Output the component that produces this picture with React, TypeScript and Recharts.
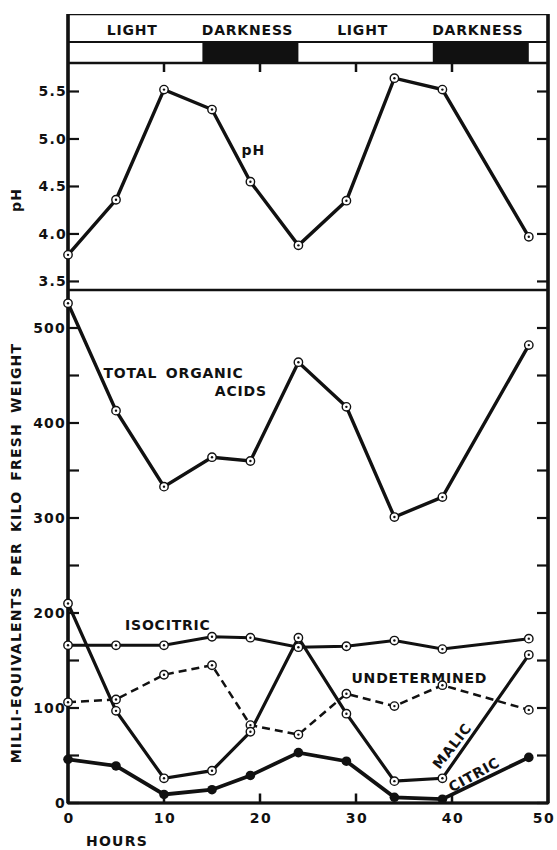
import {
  LineChart,
  Line,
  XAxis,
  YAxis,
  ReferenceArea,
  ReferenceLine,
  ReferenceDot,
} from 'recharts';

// hours of sampling
const hours = [0, 5, 10, 15, 19, 24, 29, 34, 39, 48];

// pH of the tissue
const phValues = [3.78, 4.36, 5.52, 5.31, 4.55, 3.88, 4.35, 5.64, 5.52, 3.97];

// milli-equivalents per kilo fresh weight
const totalAcids = [526, 413, 333, 364, 360, 464, 417, 301, 322, 482];
const isocitric = [166, 166, 166, 175, 174, 164, 165, 171, 162, 173];
const malic = [210, 97, 26, 34, 75, 174, 94, 23, 26, 156];
const undetermined = [106, 109, 135, 145, 82, 72, 115, 102, 124, 98];
const citric = [46, 39, 9, 14, 29, 53, 44, 6, 4, 48];

// light / dark schedule
const periodLabels = ['LIGHT', 'DARKNESS', 'LIGHT', 'DARKNESS', ''];
const periodStarts = [0, 14, 24, 38, 48];
const periodEnds = [14, 24, 38, 48, 50];

const phTicks = [3.5, 4.0, 4.5, 5.0, 5.5];
const acidTicks = [0, 50, 100, 150, 200, 250, 300, 350, 400, 450, 500];
const hourTicks = [0, 10, 20, 30, 40, 50];
const innerHourTicks = [10, 20, 30, 40];

const LEFT = 68;
const RIGHT = 548;
const INK = '#111';
const FONT = '"DejaVu Sans", sans-serif';

const phData = hours.map((h, i) => ({ h, ph: phValues[i] }));
const acidData = hours.map((h, i) => ({
  h,
  total: totalAcids[i],
  isocitric: isocitric[i],
  malic: malic[i],
  undetermined: undetermined[i],
  citric: citric[i],
}));
const periods = periodLabels.map((label, i) => ({
  label,
  start: periodStarts[i],
  end: periodEnds[i],
}));

const textStyle = { fontFamily: FONT, fontWeight: 700, fill: INK } as const;

function openDot(props: any) {
  const { cx, cy, index } = props;
  if (cx == null || cy == null) return <g key={index} />;
  return (
    <g key={index}>
      <circle cx={cx} cy={cy} r={4.2} fill="#fff" stroke={INK} strokeWidth={1.4} />
      <circle cx={cx} cy={cy} r={1.2} fill={INK} />
    </g>
  );
}

function filledDot(props: any) {
  const { cx, cy, index } = props;
  if (cx == null || cy == null) return <g key={index} />;
  return <circle key={index} cx={cx} cy={cy} r={4.8} fill={INK} />;
}

function yTick(labelled: (v: number) => boolean, fmt: (v: number) => string) {
  return (props: any) => {
    const { x, y, payload } = props;
    const v = payload.value;
    return (
      <g>
        <line x1={LEFT} x2={LEFT + 11} y1={y} y2={y} stroke={INK} strokeWidth={2.2} />
        <line x1={RIGHT - 11} x2={RIGHT} y1={y} y2={y} stroke={INK} strokeWidth={2.2} />
        {labelled(v) && (
          <text x={x} y={y} dy={5} textAnchor="end" fontSize={14} letterSpacing={1.2} {...textStyle}>
            {fmt(v)}
          </text>
        )}
      </g>
    );
  };
}

function BottomTick(props: any) {
  const { x, y, payload } = props;
  const v = payload.value;
  return (
    <text x={v === 50 ? x - 4 : x + 1} y={y + 20} textAnchor="middle" fontSize={14} letterSpacing={1.5} {...textStyle}>
      {v}
    </text>
  );
}

// axis titles sit at fixed spots in the chart's own svg
function YTitle(props: any) {
  const { text, cy } = props;
  const cx = 16;
  return (
    <text
      x={cx}
      y={cy}
      transform={`rotate(-90 ${cx} ${cy})`}
      textAnchor="middle"
      dominantBaseline="central"
      fontSize={14}
      letterSpacing={1.2}
      wordSpacing={4}
      {...textStyle}
    >
      {text}
    </text>
  );
}

function XTitle(props: any) {
  const { viewBox } = props;
  return (
    <text x={viewBox.x + 49} y={viewBox.y + 43} textAnchor="middle" fontSize={14} letterSpacing={1.2} {...textStyle}>
      HOURS
    </text>
  );
}

function HeaderLabel(props: any) {
  const { viewBox, text } = props;
  return (
    <text
      x={viewBox.x + viewBox.width / 2 - 3}
      y={viewBox.y + viewBox.height / 2 + 7}
      textAnchor="middle"
      fontSize={14}
      letterSpacing={0.8}
      {...textStyle}
    >
      {text}
    </text>
  );
}

function Note(props: any) {
  const { viewBox, text, rot = 0 } = props;
  const cx = viewBox.x + viewBox.width / 2;
  const cy = viewBox.y + viewBox.height / 2;
  return (
    <text
      x={cx}
      y={cy}
      transform={rot ? `rotate(${rot} ${cx} ${cy})` : undefined}
      textAnchor="middle"
      dominantBaseline="central"
      fontSize={14}
      letterSpacing={0.8}
      wordSpacing={3}
      {...textStyle}
    >
      {text}
    </text>
  );
}

export default function App() {
  return (
    <div style={{ position: 'absolute', left: 0, top: 0, width: 557, height: 850, background: '#fff' }}>
      {/* light / darkness header */}
      <div style={{ position: 'absolute', left: 0, top: 14 }}>
        <LineChart width={557} height={49} data={periods} margin={{ top: 0, right: 9, bottom: 0, left: LEFT }}>
          <XAxis type="number" dataKey="start" domain={[0, 50]} hide />
          <YAxis type="number" domain={[0, 7]} hide allowDataOverflow />
          {periods.map((p, i) =>
            i % 2 === 1 ? (
              <ReferenceArea key={'d' + i} x1={p.start} x2={p.end} y1={0} y2={3} fill={INK} fillOpacity={1} stroke="none" />
            ) : null
          )}
          {periods
            .filter((p) => p.label)
            .map((p, i) => (
              <ReferenceArea
                key={'l' + i}
                x1={p.start}
                x2={p.end}
                y1={3}
                y2={7}
                fill="none"
                stroke="none"
                label={<HeaderLabel text={p.label} />}
              />
            ))}
          <ReferenceLine y={3} stroke={INK} strokeWidth={2} />
          <ReferenceArea x1={0} x2={50} y1={0} y2={7} fill="none" stroke={INK} strokeWidth={2.5} />
          <ReferenceLine x={0} stroke={INK} strokeWidth={3.5} />
          <ReferenceLine x={50} stroke={INK} strokeWidth={3.5} />
        </LineChart>
      </div>

      {/* pH panel */}
      <div style={{ position: 'absolute', left: 0, top: 63 }}>
        <LineChart width={557} height={227} data={phData} margin={{ top: 0, right: 9, bottom: 0, left: 8 }}>
          <XAxis type="number" dataKey="h" domain={[0, 50]} hide />
          <YAxis
            type="number"
            domain={[3.41, 5.8]}
            allowDataOverflow
            ticks={phTicks}
            interval={0}
            width={60}
            axisLine={false}
            tickLine={false}
            tickSize={0}
            tickMargin={1}
            tick={yTick(() => true, (v) => v.toFixed(1))}
            label={<YTitle text="pH" cy={137} />}
          />
          <ReferenceArea x1={0} x2={50} fill="none" stroke={INK} strokeWidth={2.5} />
          <ReferenceLine x={0} stroke={INK} strokeWidth={3.5} />
          <ReferenceLine x={50} stroke={INK} strokeWidth={3.5} />
          {innerHourTicks.map((t) => (
            <ReferenceLine
              key={'t' + t}
              segment={[
                { x: t, y: 5.8 },
                { x: t, y: 5.705 },
              ]}
              stroke={INK}
              strokeWidth={2.5}
            />
          ))}
          <ReferenceDot x={19.3} y={4.88} r={0} fill="none" stroke="none" label={<Note text="pH" />} />
          <Line type="linear" dataKey="ph" stroke={INK} strokeWidth={3.4} dot={openDot} isAnimationActive={false} />
        </LineChart>
      </div>

      {/* organic acids panel */}
      <div style={{ position: 'absolute', left: 0, top: 290 }}>
        <LineChart width={557} height={560} data={acidData} margin={{ top: 0, right: 9, bottom: 0, left: 8 }}>
          <XAxis
            type="number"
            dataKey="h"
            domain={[0, 50]}
            ticks={hourTicks}
            interval={0}
            height={47}
            axisLine={false}
            tickLine={false}
            tickSize={0}
            tickMargin={0}
            tick={BottomTick}
            label={<XTitle />}
          />
          <YAxis
            type="number"
            domain={[0, 540]}
            allowDataOverflow
            ticks={acidTicks}
            interval={0}
            width={60}
            axisLine={false}
            tickLine={false}
            tickSize={0}
            tickMargin={2}
            tick={yTick((v) => v % 100 === 0, (v) => String(v))}
            label={<YTitle text="MILLI-EQUIVALENTS PER KILO FRESH WEIGHT" cy={263} />}
          />
          <ReferenceArea x1={0} x2={50} fill="none" stroke={INK} strokeWidth={2.5} />
          <ReferenceLine x={0} stroke={INK} strokeWidth={3.5} />
          <ReferenceLine x={50} stroke={INK} strokeWidth={3.5} />
          <ReferenceLine y={0} stroke={INK} strokeWidth={3} />
          {innerHourTicks.map((t) => (
            <ReferenceLine
              key={'b' + t}
              segment={[
                { x: t, y: 0 },
                { x: t, y: 10 },
              ]}
              stroke={INK}
              strokeWidth={2.5}
            />
          ))}
          <ReferenceDot x={11} y={453} r={0} fill="none" stroke="none" label={<Note text="TOTAL ORGANIC" />} />
          <ReferenceDot x={18} y={434} r={0} fill="none" stroke="none" label={<Note text="ACIDS" />} />
          <ReferenceDot x={10.4} y={187} r={0} fill="none" stroke="none" label={<Note text="ISOCITRIC" />} />
          <ReferenceDot x={36.6} y={132} r={0} fill="none" stroke="none" label={<Note text="UNDETERMINED" />} />
          <ReferenceDot x={40} y={60} r={0} fill="none" stroke="none" label={<Note text="MALIC" rot={-52} />} />
          <ReferenceDot x={42.3} y={30} r={0} fill="none" stroke="none" label={<Note text="CITRIC" rot={-29} />} />
          <Line type="linear" dataKey="total" stroke={INK} strokeWidth={3.4} dot={openDot} isAnimationActive={false} />
          <Line type="linear" dataKey="isocitric" stroke={INK} strokeWidth={3} dot={openDot} isAnimationActive={false} />
          <Line
            type="linear"
            dataKey="undetermined"
            stroke={INK}
            strokeWidth={2.5}
            strokeDasharray="8 5"
            dot={openDot}
            isAnimationActive={false}
          />
          <Line type="linear" dataKey="malic" stroke={INK} strokeWidth={3.2} dot={openDot} isAnimationActive={false} />
          <Line type="linear" dataKey="citric" stroke={INK} strokeWidth={3.8} dot={filledDot} isAnimationActive={false} />
        </LineChart>
      </div>
    </div>
  );
}
